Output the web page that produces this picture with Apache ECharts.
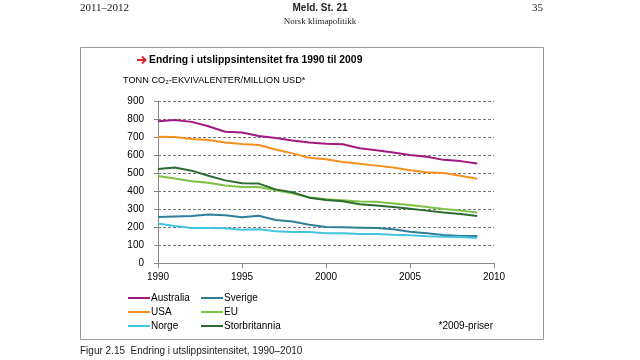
<!DOCTYPE html>
<html><head><meta charset="utf-8">
<script src="https://cdn.jsdelivr.net/npm/echarts@6/dist/echarts.min.js"></script>
<style>html,body{margin:0;padding:0;background:#fff}#c{width:640px;height:360px}</style>
</head><body><div id="c"></div>
<script>
const years = [1990,1991,1992,1993,1994,1995,1996,1997,1998,1999,2000,2001,2002,2003,2004,2005,2006,2007,2008,2009];
const australia = [787,795,784,760,729,725,706,694,681,669,663,660,637,627,614,600,590,573,566,553];
const usa = [702,700,689,683,669,661,656,631,609,585,576,561,552,541,530,515,504,500,485,468];
const storbritannia = [522,531,513,485,459,443,441,409,393,363,350,343,327,320,311,302,291,280,272,261];
const eu = [483,470,454,446,431,422,422,404,387,365,354,348,341,340,331,322,311,300,291,281];
const sverige = [256,259,261,269,265,254,263,239,231,213,200,198,196,194,187,174,165,156,150,150];
const norge = [220,206,194,194,193,185,187,176,172,172,165,165,161,161,157,154,148,146,144,139];
const xTicks = [1990,1995,2000,2005,2010];
const yTicks = [0,100,200,300,400,500,600,700,800,900];

const seriesDefs = [
  {name:'Australia', data:australia, color:'#a3197f'},
  {name:'Sverige', data:sverige, color:'#2e7f97'},
  {name:'USA', data:usa, color:'#f7901e'},
  {name:'EU', data:eu, color:'#7cc243'},
  {name:'Norge', data:norge, color:'#42c3de'},
  {name:'Storbritannia', data:storbritannia, color:'#2c6b30'}
];
const F = 'Liberation Sans, Arial, sans-serif';
const S = 'Liberation Serif, Times New Roman, serif';
const lineIcon = 'path://M0,0H0.01V0.01H0Z M0,4H22V6H0Z M21.99,9.99H22V10H21.99Z';
const legendBase = {orient:'vertical',top:293,padding:0,itemGap:4,itemWidth:22,itemHeight:10,icon:lineIcon,
  textStyle:{fontFamily:F,fontSize:10,color:'#000',padding:[0,0,0,-4]}};
const chart = echarts.init(document.getElementById('c'));
chart.setOption({
  animation:false,
  backgroundColor:'#fff',
  grid:{left:158,right:146,top:101,bottom:97},
  xAxis:{type:'value',min:1990,max:2010,interval:5,
    axisLine:{lineStyle:{color:'#888',width:1}},
    axisTick:{show:true,length:5,lineStyle:{color:'#888'}},
    axisLabel:{color:'#000',fontFamily:F,fontSize:10,margin:9,formatter:v=>String(v)},
    splitLine:{show:false}},
  yAxis:{type:'value',min:0,max:900,interval:100,
    axisLine:{show:true,lineStyle:{color:'#888',width:1}},
    axisTick:{show:true,length:4,lineStyle:{color:'#888'}},
    axisLabel:{color:'#000',fontFamily:F,fontSize:10,margin:14},
    splitLine:{show:true,lineStyle:{color:'#777',type:[3,2],width:1}}},
  legend:[
    Object.assign({data:['Australia','USA','Norge'],left:128},legendBase),
    Object.assign({data:['Sverige','EU','Storbritannia'],left:201},legendBase)
  ],
  series: seriesDefs.map(s=>({
    name:s.name,type:'line',data:years.map((y,i)=>[y,s.data[i]]),
    showSymbol:false,symbol:'none',color:s.color,
    itemStyle:{color:s.color},
    lineStyle:{color:s.color,width:2}
  })),
  graphic:[
    {type:'rect',shape:{x:80.5,y:47.5,width:463,height:292},style:{fill:'none',stroke:'#999',lineWidth:1}},
    {type:'text',left:80,top:3,style:{text:'2011–2012',font:'11px '+S,fill:'#222'}},
    {type:'text',left:'center',top:3,style:{text:'Meld. St. 21',font:'bold 10px '+F,fill:'#222'}},
    {type:'text',left:'center',top:17,style:{text:'Norsk klimapolitikk',font:'9px '+S,fill:'#222'}},
    {type:'text',right:97,top:3,style:{text:'35',font:'11px '+S,fill:'#222'}},
    {type:'line',shape:{x1:137,y1:60,x2:145,y2:60},style:{stroke:'#d7262b',lineWidth:2}},
    {type:'polyline',shape:{points:[[142,56.5],[145.5,60],[142,63.5]]},style:{stroke:'#d7262b',lineWidth:2,fill:'none'}},
    {type:'text',x:149,y:54,scaleX:0.9,style:{text:'Endring i utslippsintensitet fra 1990 til 2009',font:'bold 11.5px '+F,fill:'#000'}},
    {type:'text',left:123,top:76,style:{text:'TONN CO₂-EKVIVALENTER/MILLION USD*',font:'9.2px '+F,fill:'#000'}},
    {type:'text',right:147,top:321,style:{text:'*2009-priser',font:'10px '+F,fill:'#000'}},
    {type:'text',left:80,top:346,style:{text:'Figur 2.15  Endring i utslippsintensitet, 1990–2010',font:'10px '+F,fill:'#222'}}
  ]
});
</script></body></html>
